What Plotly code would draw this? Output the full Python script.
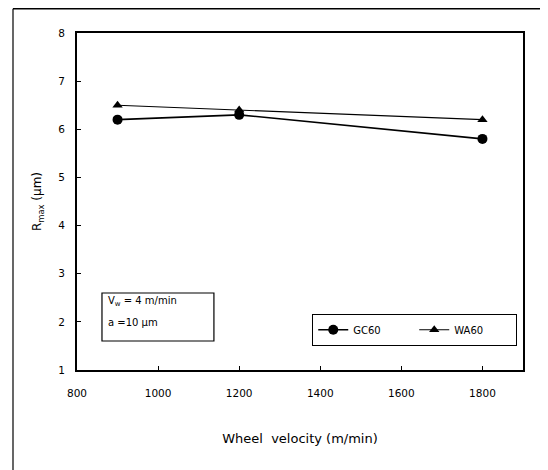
import plotly.graph_objects as go

velocity = [900, 1200, 1800]
gc60 = [6.2, 6.3, 5.8]
wa60 = [6.5, 6.4, 6.2]
x_ticks = [800, 1000, 1200, 1400, 1600, 1800]
y_ticks = [1, 2, 3, 4, 5, 6, 7, 8]

FONT = "DejaVu Sans"

fig = go.Figure()
fig.add_trace(go.Scatter(
    x=velocity, y=gc60, name="GC60", mode="lines+markers",
    line=dict(color="black", width=1.6),
    marker=dict(symbol="circle", size=10, color="black"),
))
fig.add_trace(go.Scatter(
    x=velocity, y=wa60, name="WA60", mode="lines+markers",
    line=dict(color="black", width=1.1),
    marker=dict(symbol="triangle-up", size=9, color="black"),
))

axis_common = dict(
    showline=True, linecolor="black", linewidth=2, mirror=True,
    ticks="inside", ticklen=4, tickcolor="black", tickwidth=1,
    showgrid=False, zeroline=False,
    tickfont=dict(family=FONT, size=10.5, color="black"),
)

fig.update_xaxes(
    range=[800, 1900], tickvals=x_ticks, ticktext=[str(v) for v in x_ticks],
    ticklabelstandoff=12,
    title=dict(text="Wheel  velocity (m/min)", font=dict(family=FONT, size=13, color="black"), standoff=36),
    **axis_common,
)
fig.update_yaxes(
    range=[1, 8], tickvals=y_ticks, ticktext=[str(v) for v in y_ticks],
    ticklabelstandoff=8,
    title=dict(text="R<sub>max</sub> (μm)", font=dict(family=FONT, size=12, color="black"), standoff=14),
    **axis_common,
)

# condition box
fig.add_shape(type="rect", xref="paper", yref="paper",
              x0=0.056, x1=0.307, y0=0.086, y1=0.2285,
              line=dict(color="black", width=1.2), fillcolor="white", layer="above")
fig.add_annotation(xref="paper", yref="paper", x=0.065, y=0.2018, xanchor="left", yanchor="middle",
                   text="V<sub>w</sub> = 4 m/min", showarrow=False,
                   font=dict(family=FONT, size=10, color="black"))
fig.add_annotation(xref="paper", yref="paper", x=0.065, y=0.1424, xanchor="left", yanchor="middle",
                   text="a =10 μm", showarrow=False,
                   font=dict(family=FONT, size=10, color="black"))

# outer frame lines
fig.add_shape(type="line", xref="paper", yref="paper", x0=-0.1435, x1=-0.1435, y0=-0.35, y1=1.072,
              line=dict(color="black", width=1.2))
fig.add_shape(type="line", xref="paper", yref="paper", x0=-0.1435, x1=1.1, y0=1.072, y1=1.072,
              line=dict(color="black", width=1.5))

fig.update_layout(
    width=540, height=462,
    margin=dict(l=69, r=25, t=25, b=100),
    paper_bgcolor="white", plot_bgcolor="white",
    font=dict(family=FONT, color="black"),
    showlegend=True,
    legend=dict(
        orientation="h", x=0.527, y=0.166, xanchor="left", yanchor="top",
        bordercolor="black", borderwidth=1.2, bgcolor="white",
        font=dict(family=FONT, size=10, color="black"),
        entrywidth=56, entrywidthmode="pixels", itemwidth=30,
    ),
)

fig.write_html("out.html")
